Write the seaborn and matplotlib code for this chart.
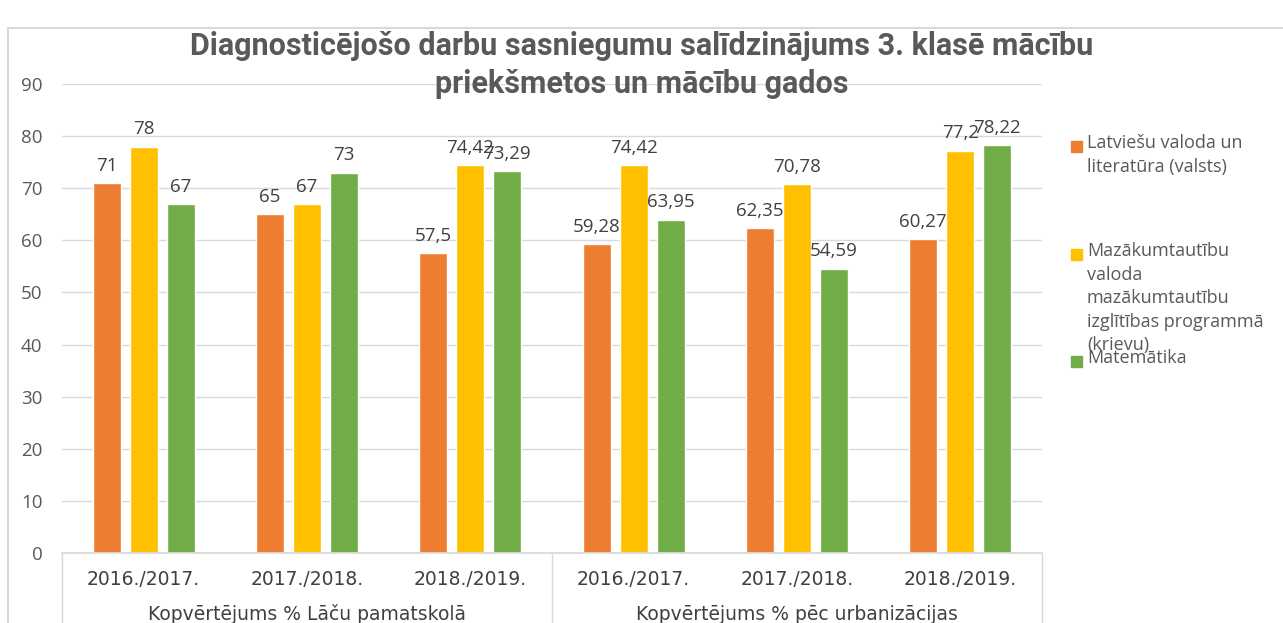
import numpy as np, pandas as pd
import seaborn as sns
import matplotlib.pyplot as plt
from matplotlib.patches import Rectangle
from matplotlib.lines import Line2D

# --- dati ---
groups = ["Kopvērtējums % Lāču pamatskolā", "Kopvērtējums % pēc urbanizācijas"]
years = ["2016./2017.", "2017./2018.", "2018./2019."]
subjects = ["Latviešu valoda un literatūra (valsts)",
            "Mazākumtautību valoda mazākumtautību izglītības programmā (krievu)",
            "Matemātika"]
legend_text = ["Latviešu valoda un\nliteratūra (valsts)",
               "Mazākumtautību\nvaloda\nmazākumtautību\nizglītības programmā\n(krievu)",
               "Matemātika"]
latv = [71, 65, 57.5, 59.28, 62.35, 60.27]
maz = [78, 67, 74.42, 74.42, 70.78, 77.2]
mat = [67, 73, 73.29, 63.95, 54.59, 78.22]
colors = ["#ED7D31", "#FFC000", "#70AD47"]
title = "Diagnosticējošo darbu sasniegumu salīdzinājums 3. klasē mācību\npriekšmetos un mācību gados"

keys = [f"{g}|{y}" for g in groups for y in years]
df = pd.DataFrame({
    "key": keys * 3,
    "subject": np.repeat(subjects, len(keys)),
    "value": latv + maz + mat,
})

sns.set_theme(style="white")
plt.rcParams["font.family"] = ["Open Sans", "DejaVu Sans"]
TXT = "#595959"
CAT = ["DejaVu Sans"]

fig = plt.figure(figsize=(12.83, 6.23), dpi=100)
ax = fig.add_axes([62/1283, 1-553/623, (1042-62)/1283, (553-84)/623])

sns.barplot(data=df, x="key", y="value", hue="subject", order=keys, hue_order=subjects,
            palette=colors, saturation=1, width=0.68, gap=0.24, legend=False, ax=ax)

# vērtību etiķetes ar komatu
for cont, vals in zip(ax.containers, [latv, maz, mat]):
    ax.bar_label(cont, labels=[str(v).replace(".", ",") for v in vals],
                 padding=6, fontsize=13.5, color="#404040")

ax.set_ylim(0, 90)
ax.set_yticks(range(0, 91, 10))
ax.yaxis.grid(True, color="#D9D9D9", lw=1)
ax.set_axisbelow(True)
for s in ["top", "right", "left"]:
    ax.spines[s].set_visible(False)
ax.spines["bottom"].set_color("#D9D9D9")
ax.tick_params(axis="y", length=0, pad=14, labelsize=13.5, labelcolor=TXT)
ax.set_xticks(range(len(keys)))
ax.set_xticklabels(years * 2, fontsize=13.5, color="#404040", family=CAT)
ax.tick_params(axis="x", length=0, pad=12)
ax.set_xlabel("")
ax.set_ylabel("")
ax.set_xlim(-0.5, len(keys) - 0.5)

# grupu etiķetes un atdalītāji
for i, g in enumerate(groups):
    ax.text(i * 3 + 1, -0.131, g, transform=ax.get_xaxis_transform(),
            ha="center", va="center", fontsize=13.5, color="#404040", family=CAT)
for xx in [0, 0.5, 1]:
    ax.add_line(Line2D([xx, xx], [0, -0.16], transform=ax.transAxes,
                       color="#D9D9D9", lw=1, clip_on=False))

# virsraksts
fig.text(0.5, 1 - 65/623, title, ha="center", va="center", multialignment="center",
         fontsize=22, fontweight="bold", color=TXT, family=["Roboto", "DejaVu Sans"],
         linespacing=1.3)

# leģenda
for txt, c, yc in zip(legend_text, colors, [146, 254, 361]):
    fig.patches.append(Rectangle((1071/1283, 1 - (yc + 5.5)/623), 11/1283, 11/623,
                                 transform=fig.transFigure, color=c))
    fig.text(1087/1283, 1 - (yc - 12)/623, txt, ha="left", va="top",
             fontsize=13, color=TXT, linespacing=1.4)

# rāmis
fig.add_artist(Line2D([8/1283, 8/1283], [0, 1 - 28/623], transform=fig.transFigure, color="#D9D9D9", lw=1.5))
fig.add_artist(Line2D([8/1283, 1], [1 - 28/623, 1 - 28/623], transform=fig.transFigure, color="#D9D9D9", lw=1.5))

fig.savefig("out.png", dpi=100)
